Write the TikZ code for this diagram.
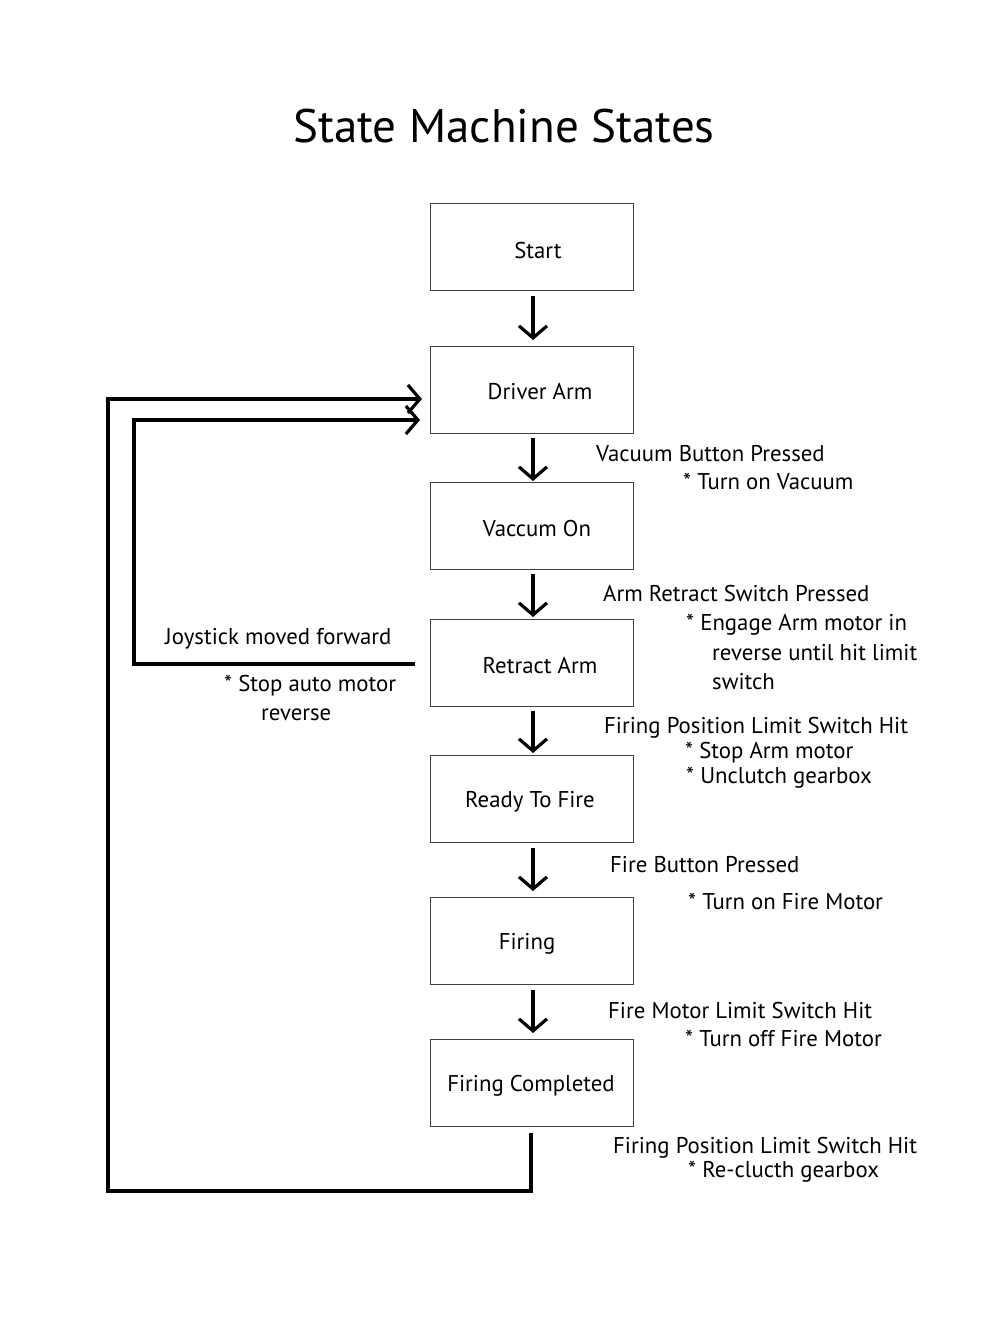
\documentclass[tikz,border=0pt]{standalone}
\usepackage{fontspec}
\setmainfont{PT Sans}
\usetikzlibrary{arrows.meta}
\begin{document}
\begin{tikzpicture}[x=1pt,y=-1pt,
  statebox/.style={draw=black!75,line width=0.9pt,minimum width=203pt,minimum height=87pt,anchor=north west,inner sep=0pt},
  lbl/.style={anchor=west,inner sep=0pt,font=\fontsize{22.8}{26}\selectfont},
  stxt/.style={inner sep=0pt,font=\fontsize{22.8}{26}\selectfont},
  flow/.style={line width=3.6pt,-{Straight Barb[length=12pt,width=28pt,line width=3.2pt]}},
  loopline/.style={line width=3.6pt}]
\useasboundingbox (0,0) rectangle (1000,1333);
\node[font=\fontsize{47}{52}\selectfont] (title) at (504,126) {State Machine States};

\node[statebox] (start) at (430,203) {};
\node[stxt] at (538,251) {Start};
\node[statebox] (driver) at (430,346) {};
\node[stxt] at (540,392) {Driver Arm};
\node[statebox] (vac) at (430,482) {};
\node[stxt] at (537,529) {Vaccum On};
\node[statebox] (retract) at (430,619) {};
\node[stxt] at (540,666) {Retract Arm};
\node[statebox] (ready) at (430,755) {};
\node[stxt] at (530,802) {Ready To Fire};
\node[statebox] (firing) at (430,897) {};
\node[stxt] at (527,944) {Firing};
\node[statebox] (done) at (430,1039) {};
\node[stxt] at (531,1086) {Firing Completed};

% down arrows
\coordinate (a1s) at (533,296); \coordinate (a1e) at (533,340);
\coordinate (a2s) at (533,438); \coordinate (a2e) at (533,481);
\coordinate (a3s) at (533,574); \coordinate (a3e) at (533,617);
\coordinate (a4s) at (533,711); \coordinate (a4e) at (533,753);
\coordinate (a5s) at (533,848); \coordinate (a5e) at (533,891);
\coordinate (a6s) at (533,990); \coordinate (a6e) at (533,1033);
\draw[flow] (a1s) -- (a1e);
\draw[flow] (a2s) -- (a2e);
\draw[flow] (a3s) -- (a3e);
\draw[flow] (a4s) -- (a4e);
\draw[flow] (a5s) -- (a5e);
\draw[flow] (a6s) -- (a6e);

% loops
\coordinate (o1) at (531,1133);
\coordinate (o2) at (531,1191);
\coordinate (o3) at (108,1191);
\coordinate (o4) at (108,399);
\coordinate (o5) at (422,399);
\draw[flow,line join=miter] (o1) -- (o2) -- (o3) -- (o4) -- (o5);
\coordinate (i1) at (415,664);
\coordinate (i2) at (134,664);
\coordinate (i3) at (134,420);
\coordinate (i4) at (420,420);
\draw[flow,line join=miter] (i1) -- (i2) -- (i3) -- (i4);

% labels
\node[lbl] at (596,454) {Vacuum Button Pressed};
\node[lbl] at (683,481) {* Turn on Vacuum};
\node[lbl] at (603,594) {Arm Retract Switch Pressed};
\node[lbl] at (686,625) {* Engage Arm motor in};
\node[lbl] at (712,653) {reverse until hit limit};
\node[lbl] at (712,682) {switch};
\node[lbl] at (165,639) {Joystick moved forward};
\node[lbl] at (224,686) {* Stop auto motor};
\node[lbl] at (261,715) {reverse};
\node[lbl] at (604,728) {Firing Position Limit Switch Hit};
\node[lbl] at (685,753) {* Stop Arm motor};
\node[lbl] at (686,778) {* Unclutch gearbox};
\node[lbl] at (610,865) {Fire Button Pressed};
\node[lbl] at (688,901) {* Turn on Fire Motor};
\node[lbl] at (608,1011) {Fire Motor Limit Switch Hit};
\node[lbl] at (685,1038) {* Turn off Fire Motor};
\node[lbl] at (613,1148) {Firing Position Limit Switch Hit};
\node[lbl] at (688,1172) {* Re-clucth gearbox};
\end{tikzpicture}
\end{document}
